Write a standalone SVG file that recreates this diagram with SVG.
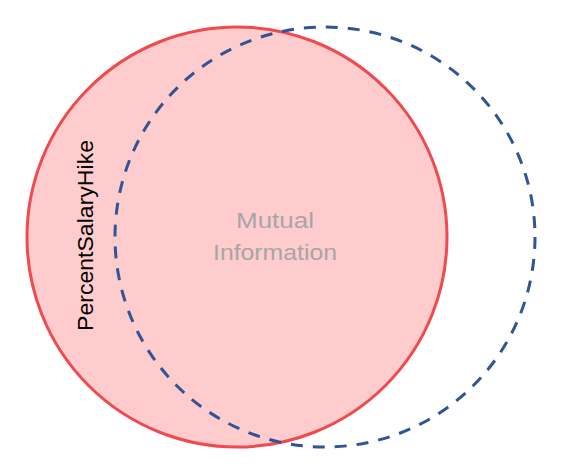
<svg xmlns="http://www.w3.org/2000/svg" width="575" height="471" viewBox="0 0 575 471">
<style>
.lbl{font-family:"Liberation Sans","Open Sans",sans-serif;}
</style>
<rect width="575" height="471" fill="#ffffff"/>
<g id="percentsalaryhike">
<circle cx="237" cy="237" r="210" fill="#ffcccd" stroke="#ef4b4f" stroke-width="3"/>
<text class="lbl" x="0" y="0" font-size="22.5" fill="#000000" textLength="191" lengthAdjust="spacingAndGlyphs" transform="translate(93,331) rotate(-90)">PercentSalaryHike</text>
</g>
<g id="other">
<circle cx="325" cy="237" r="210" fill="none" stroke="#2f5597" stroke-width="3" stroke-dasharray="12,10"/>
</g>
<g id="mutual">
<text class="lbl" x="275" y="228" font-size="22" fill="#a6a6a6" text-anchor="middle" textLength="78" lengthAdjust="spacingAndGlyphs">Mutual</text>
<text class="lbl" x="275" y="260" font-size="22" fill="#a6a6a6" text-anchor="middle" textLength="124" lengthAdjust="spacingAndGlyphs">Information</text>
</g>
</svg>
